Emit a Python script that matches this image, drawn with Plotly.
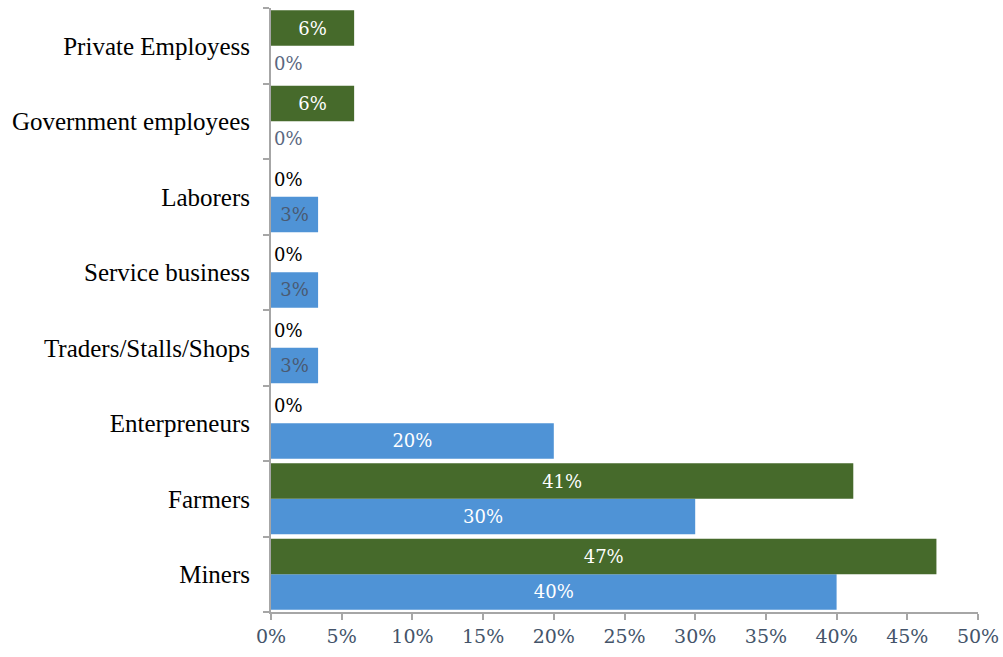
import plotly.graph_objects as go

categories = ["Miners", "Farmers", "Enterpreneurs", "Traders/Stalls/Shops",
              "Service business", "Laborers", "Government employees", "Private Employess"]
# percentages
green_vals = [47.06, 41.18, 0, 0, 0, 0, 5.88, 5.88]
blue_vals = [40.0, 30.0, 20.0, 3.33, 3.33, 3.33, 0, 0]
x_ticks = [0, 5, 10, 15, 20, 25, 30, 35, 40, 45, 50]
x_tick_labels = [f"{v}%" for v in x_ticks]

FONT = "Liberation Serif"
NUMFONT = "DejaVu Serif"
TICKC = "#44546A"


def text_styles(vals, zero_color, small_color):
    pos = ["inside" if v > 0 else "outside" for v in vals]
    colors = []
    for v in vals:
        if v == 0:
            colors.append(zero_color)
        elif v < 5:
            colors.append(small_color)
        else:
            colors.append("white")
    labels = [f"{round(v)}%" for v in vals]
    return pos, colors, labels


bpos, bcol, btxt = text_styles(blue_vals, "#5a6780", "#4a5a72")
gpos, gcol, gtxt = text_styles(green_vals, "black", "white")

fig = go.Figure()
fig.add_trace(go.Bar(
    y=categories, x=blue_vals, orientation="h", name="Blue",
    marker=dict(color="#4f93d6", line=dict(width=0)),
    text=btxt, textposition=bpos,
    insidetextanchor="middle", constraintext="none", cliponaxis=False,
    textfont=dict(family=NUMFONT, size=18, color=bcol),
))
fig.add_trace(go.Bar(
    y=categories, x=green_vals, orientation="h", name="Green",
    marker=dict(color="#466a2b", line=dict(width=0)),
    text=gtxt, textposition=gpos,
    insidetextanchor="middle", constraintext="none", cliponaxis=False,
    textfont=dict(family=NUMFONT, size=18, color=gcol),
))

fig.update_layout(
    width=1003, height=657,
    margin=dict(l=271, r=25, t=8, b=45, autoexpand=False),
    barmode="group", bargap=0.06, bargroupgap=0,
    showlegend=False,
    plot_bgcolor="white", paper_bgcolor="white",
    font=dict(family=FONT),
    xaxis=dict(
        range=[0, 50], tickmode="array", tickvals=x_ticks, ticktext=x_tick_labels,
        showgrid=False, zeroline=False, automargin=False,
        showline=True, linecolor="#a6a6a6", linewidth=2,
        ticks="outside", ticklen=6, tickcolor="#a6a6a6", tickwidth=2,
        tickfont=dict(family=NUMFONT, size=19, color=TICKC),
    ),
    yaxis=dict(
        categoryorder="array", categoryarray=categories,
        showgrid=False, zeroline=False, automargin=False,
        showline=True, linecolor="#a6a6a6", linewidth=2,
        ticks="outside", ticklen=6, tickcolor="#a6a6a6", tickwidth=2,
        tickson="boundaries", ticklabelstandoff=14,
        tickfont=dict(family=FONT, size=25, color="black"),
    ),
)

fig.write_html("out.html")
